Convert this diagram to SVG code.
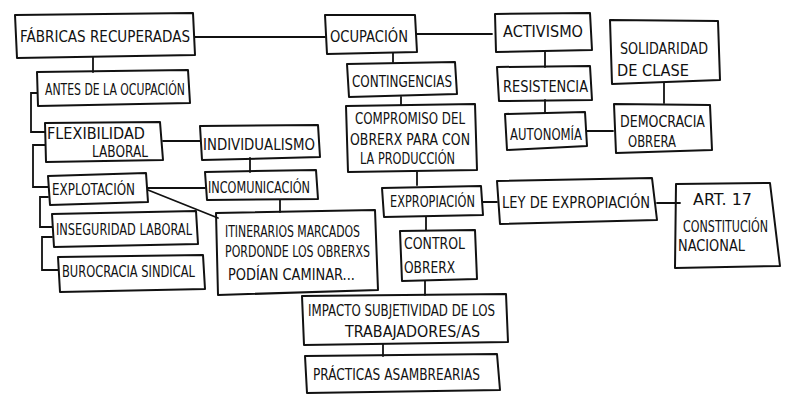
<svg xmlns="http://www.w3.org/2000/svg" width="800" height="412" viewBox="0 0 800 412">
<style>
.b{fill:none;stroke:#111;stroke-width:2;stroke-linejoin:round}
.c{fill:none;stroke:#111;stroke-width:1.8;stroke-linecap:round}
text{font-family:"DejaVu Sans","Liberation Sans",sans-serif;font-size:15px;fill:#111}
</style>
<rect width="800" height="412" fill="#fff"/>
<g id="connectors">
<path class="c" d="M195,37 H325"/>
<path class="c" d="M417,34 H492"/>
<path class="c" d="M93,57 V72"/>
<path class="c" d="M393,53 V62"/>
<path class="c" d="M401,97 V105"/>
<path class="c" d="M545,52 V67"/>
<path class="c" d="M545,100 V113"/>
<path class="c" d="M587,131 H613"/>
<path class="c" d="M664,83 V103"/>
<path class="c" d="M37,93 H31 V132 H45"/>
<path class="c" d="M45,145 H33 V187 H48"/>
<path class="c" d="M48,197 H40 V227 H52"/>
<path class="c" d="M52,237 H42 V270 H58"/>
<path class="c" d="M163,141 H200"/>
<path class="c" d="M250,158 V172"/>
<path class="c" d="M148,188 H205"/>
<path class="c" d="M148,190 L218,218"/>
<path class="c" d="M280,200 V212"/>
<path class="c" d="M417,172 V185"/>
<path class="c" d="M483,202 H497"/>
<path class="c" d="M657,203 H680"/>
<path class="c" d="M426,217 V230"/>
<path class="c" d="M425,281 V295"/>
<path class="c" d="M383,344 V356"/>
</g>
<g id="fabricas"><path class="b" d="M15,15 L193,13 L195,55 L17,58 Z"/><text x="20" y="42" textLength="170" lengthAdjust="spacingAndGlyphs" font-size="18">FÁBRICAS RECUPERADAS</text></g>
<g id="ocupacion"><path class="b" d="M325,15 L415,15 L417,52 L327,54 Z"/><text x="330" y="42" textLength="78" lengthAdjust="spacingAndGlyphs">OCUPACIÓN</text></g>
<g id="activismo"><path class="b" d="M495,14 L590,13 L592,50 L496,52 Z"/><text x="503" y="37" textLength="80" lengthAdjust="spacingAndGlyphs">ACTIVISMO</text></g>
<g id="solidaridad"><path class="b" d="M610,20 L718,21 L720,80 L612,84 Z"/><text x="620" y="54" textLength="88" lengthAdjust="spacingAndGlyphs">SOLIDARIDAD</text><text x="617" y="76" textLength="72" lengthAdjust="spacingAndGlyphs">DE CLASE</text></g>
<g id="antes"><path class="b" d="M37,72 L188,70 L190,103 L38,106 Z"/><text x="45" y="95" textLength="140" lengthAdjust="spacingAndGlyphs" font-size="13">ANTES DE LA OCUPACIÓN</text></g>
<g id="contingencias"><path class="b" d="M347,64 L455,62 L457,94 L349,97 Z"/><text x="352" y="87" textLength="100" lengthAdjust="spacingAndGlyphs">CONTINGENCIAS</text></g>
<g id="resistencia"><path class="b" d="M497,67 L590,66 L592,100 L499,101 Z"/><text x="503" y="92" textLength="85" lengthAdjust="spacingAndGlyphs">RESISTENCIA</text></g>
<g id="autonomia"><path class="b" d="M505,114 L585,112 L587,146 L507,150 Z"/><text x="510" y="140" textLength="72" lengthAdjust="spacingAndGlyphs" font-size="14">AUTONOMÍA</text></g>
<g id="democracia"><path class="b" d="M614,104 L710,105 L712,150 L616,153 Z"/><text x="620" y="127" textLength="85" lengthAdjust="spacingAndGlyphs" font-size="13">DEMOCRACIA</text><text x="628" y="147" textLength="48" lengthAdjust="spacingAndGlyphs" font-size="12">OBRERA</text></g>
<g id="compromiso"><path class="b" d="M346,106 L475,104 L477,170 L348,172 Z"/><text x="355" y="124" textLength="110" lengthAdjust="spacingAndGlyphs" font-size="14">COMPROMISO DEL</text><text x="350" y="145" textLength="120" lengthAdjust="spacingAndGlyphs" font-size="14">OBRERX PARA CON</text><text x="360" y="164" textLength="95" lengthAdjust="spacingAndGlyphs" font-size="14">LA PRODUCCIÓN</text></g>
<g id="flexibilidad"><path class="b" d="M45,123 L160,122 L163,160 L46,162 Z"/><text x="47" y="139" textLength="98" lengthAdjust="spacingAndGlyphs">FLEXIBILIDAD</text><text x="92" y="157" textLength="56" lengthAdjust="spacingAndGlyphs" font-size="14">LABORAL</text></g>
<g id="individualismo"><path class="b" d="M200,126 L318,125 L320,157 L202,160 Z"/><text x="203" y="150" textLength="112" lengthAdjust="spacingAndGlyphs">INDIVIDUALISMO</text></g>
<g id="explotacion"><path class="b" d="M48,176 L146,173 L148,202 L50,205 Z"/><text x="52" y="195" textLength="83" lengthAdjust="spacingAndGlyphs">EXPLOTACIÓN</text></g>
<g id="incomunicacion"><path class="b" d="M205,172 L316,170 L318,199 L207,200 Z"/><text x="208" y="193" textLength="102" lengthAdjust="spacingAndGlyphs">INCOMUNICACIÓN</text></g>
<g id="inseguridad"><path class="b" d="M52,214 L196,211 L198,244 L54,247 Z"/><text x="56" y="235" textLength="136" lengthAdjust="spacingAndGlyphs">INSEGURIDAD LABORAL</text></g>
<g id="burocracia"><path class="b" d="M58,257 L203,255 L205,289 L60,292 Z"/><text x="62" y="277" textLength="133" lengthAdjust="spacingAndGlyphs">BUROCRACIA SINDICAL</text></g>
<g id="itinerarios"><path class="b" d="M216,213 L375,210 L378,290 L218,295 Z"/><text x="225" y="237" textLength="135" lengthAdjust="spacingAndGlyphs" font-size="13">ITINERARIOS MARCADOS</text><text x="225" y="257" textLength="145" lengthAdjust="spacingAndGlyphs" font-size="13">PORDONDE LOS OBRERXS</text><text x="228" y="280" textLength="127" lengthAdjust="spacingAndGlyphs" font-size="13">PODÍAN CAMINAR...</text></g>
<g id="expropiacion"><path class="b" d="M382,188 L481,186 L483,215 L384,217 Z"/><text x="390" y="207" textLength="85" lengthAdjust="spacingAndGlyphs" font-size="14">EXPROPIACIÓN</text></g>
<g id="ley"><path class="b" d="M497,181 L652,178 L657,220 L500,224 Z"/><text x="502" y="208" textLength="148" lengthAdjust="spacingAndGlyphs" font-size="17">LEY DE EXPROPIACIÓN</text></g>
<g id="art17"><path class="b" d="M676,184 L770,183 L780,266 L675,268 Z"/><text x="693" y="205" textLength="59" lengthAdjust="spacingAndGlyphs">ART. 17</text><text x="683" y="232" textLength="85" lengthAdjust="spacingAndGlyphs" font-size="13">CONSTITUCIÓN</text><text x="678" y="251" textLength="67" lengthAdjust="spacingAndGlyphs" font-size="13">NACIONAL</text></g>
<g id="control"><path class="b" d="M400,231 L475,230 L477,279 L402,281 Z"/><text x="404" y="249" textLength="61" lengthAdjust="spacingAndGlyphs" font-size="13">CONTROL</text><text x="404" y="273" textLength="51" lengthAdjust="spacingAndGlyphs" font-size="12">OBRERX</text></g>
<g id="impacto"><path class="b" d="M302,296 L506,294 L508,342 L304,345 Z"/><text x="308" y="316" textLength="187" lengthAdjust="spacingAndGlyphs" font-size="14">IMPACTO SUBJETIVIDAD DE LOS</text><text x="345" y="337" textLength="135" lengthAdjust="spacingAndGlyphs" font-size="14">TRABAJADORES/AS</text></g>
<g id="practicas"><path class="b" d="M305,356 L497,354 L500,390 L307,393 Z"/><text x="313" y="380" textLength="167" lengthAdjust="spacingAndGlyphs">PRÁCTICAS ASAMBREARIAS</text></g>
</svg>
